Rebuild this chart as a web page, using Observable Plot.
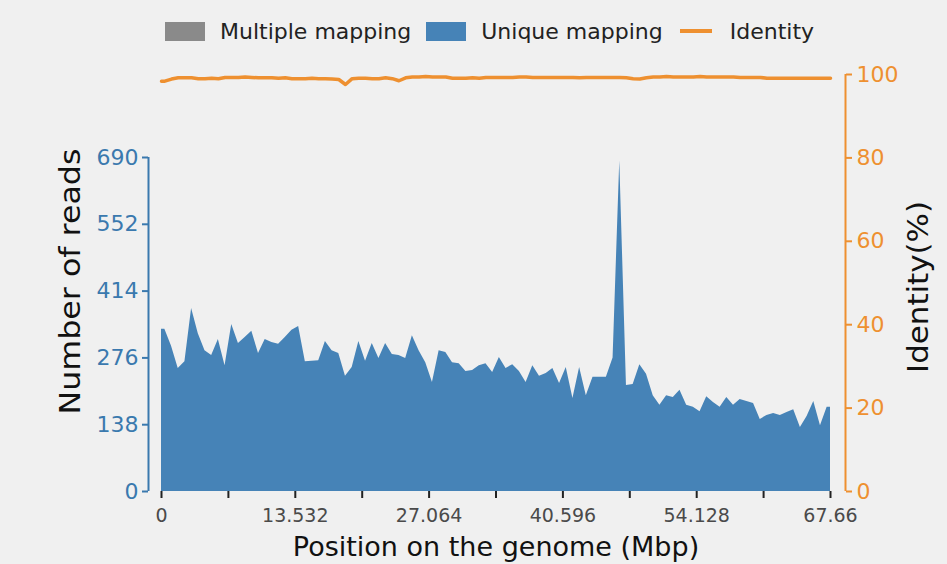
<!DOCTYPE html>
<html>
<head>
<meta charset="utf-8">
<script src="https://cdn.jsdelivr.net/npm/d3@7"></script>
<script src="https://cdn.jsdelivr.net/npm/@observablehq/plot@0.6"></script>
<style>
  html, body { margin: 0; padding: 0; background: #ffffff; }
  #wrap { position: relative; width: 947px; height: 564px; background: #f0f0f0; font-family: "DejaVu Sans", sans-serif; overflow: hidden; }
  #legend { position: absolute; left: 0; top: 0; width: 947px; height: 62px; box-sizing: border-box; padding-left: 165px; display: flex; align-items: center; font-size: 22px; color: #222; }
  #legend .sw { display: inline-block; width: 40px; height: 19px; margin-right: 15px; }
  #legend .ln { display: inline-block; width: 32px; height: 4px; margin-right: 18px; }
  #legend .lab { margin-right: 15px; }
  #charts { position: absolute; left: 0; top: 60px; width: 947px; height: 504px; }
  #charts svg { position: absolute; left: 0; top: 0; }
</style>
</head>
<body>
<div id="wrap">
  <div id="legend"></div>
  <div id="charts"></div>
</div>
<script>
// ---- data ----
const genomeLength = 67.66;           // Mbp
const binSize = 0.6766;               // Mbp per bin
const reads = [
  335,300,254,268,378,326,291,281,314,260,
  345,306,318,331,285,314,308,304,318,333,
  341,268,269,270,310,291,285,238,256,310,
  269,306,275,306,283,281,275,322,291,266,
  225,291,287,266,264,248,250,260,264,246,
  277,254,262,248,225,260,238,244,254,223,
  256,192,256,198,236,236,236,276,683,219,
  221,262,242,198,178,198,194,209,178,174,
  165,196,184,174,194,178,190,186,182,149,
  157,161,157,163,169,132,155,186,136,174
];
const identity = [
  98.4,98.9,99.2,99.2,99.2,99.0,99.0,99.1,99.0,99.3,
  99.3,99.3,99.4,99.3,99.2,99.2,99.2,99.1,99.2,99.0,
  99.0,99.0,99.1,99.0,99.0,98.9,98.8,97.6,99.0,99.1,
  99.1,99.0,99.0,99.2,99.0,98.5,99.2,99.4,99.4,99.5,
  99.4,99.4,99.4,99.1,99.1,99.1,99.2,99.1,99.3,99.3,
  99.3,99.3,99.3,99.4,99.4,99.3,99.3,99.3,99.3,99.3,
  99.3,99.3,99.2,99.3,99.3,99.3,99.3,99.3,99.3,99.2,
  99.0,98.9,99.2,99.4,99.4,99.5,99.4,99.4,99.4,99.4,
  99.5,99.4,99.4,99.4,99.4,99.4,99.3,99.3,99.3,99.3,
  99.1,99.1,99.1,99.1,99.1,99.1,99.1,99.1,99.1,99.1
];
const xTicks = [0, 6.766, 13.532, 20.298, 27.064, 33.83, 40.596, 47.362, 54.128, 60.894, 67.66];
const xTickLabels = ["0", "", "13.532", "", "27.064", "", "40.596", "", "54.128", "", "67.66"];
const readTicks = [0, 138, 276, 414, 552, 690];
const identityTicks = [0, 20, 40, 60, 80, 100];
const legendItems = ["Multiple mapping", "Unique mapping", "Identity"];
const xLabel = "Position on the genome (Mbp)";
const yLabel = "Number of reads";
const y2Label = "Identity(%)";

// ---- colours ----
const cGray = "#8a8a8a", cBlue = "#4683b7", cBlueAxis = "#3a79ae", cOrange = "#ee9030";

// ---- table ----
const rows = reads.map((v, i) => ({pos: (i + 0.5) * binSize, reads: v, identity: identity[i]}));
const table = [
  {pos: 0, reads: reads[0], identity: identity[0]},
  ...rows,
  {pos: genomeLength, reads: reads[reads.length - 1], identity: identity[identity.length - 1]}
];

// ---- legend ----
const legend = document.getElementById("legend");
legend.innerHTML =
  `<span class="sw" style="background:${cGray}"></span><span class="lab">${legendItems[0]}</span>` +
  `<span class="sw" style="background:${cBlue}"></span><span class="lab" style="margin-right:17px">${legendItems[1]}</span>` +
  `<span class="ln" style="background:${cOrange}"></span><span class="lab">${legendItems[2]}</span>`;

const W = 947, H = 504;
const common = {
  width: W, height: H,
  marginLeft: 161, marginRight: 117, marginBottom: 73,
  style: {background: "transparent", fontFamily: "DejaVu Sans, sans-serif", fontSize: "19px", overflow: "visible"},
  x: {domain: [0, genomeLength]}
};

const p1 = Plot.plot({
  ...common,
  marginTop: 97,
  y: {domain: [0, 690]},
  marks: [
    Plot.areaY(table, {x: "pos", y: "reads", fill: cBlue}),
    Plot.ruleX([0], {y1: 0, y2: 690, dx: -13, stroke: cBlueAxis, strokeWidth: 2}),
    Plot.axisY(readTicks, {anchor: "left", dx: -13, tickSize: 6, tickPadding: 4, color: cBlueAxis, strokeWidth: 2, fontSize: 22, label: null, tickFormat: d => String(d)}),
    Plot.axisX(xTicks, {anchor: "bottom", tickSize: 7, tickPadding: 10, stroke: "#222", fill: "#4a4a4a", strokeWidth: 2, label: null,
      tickFormat: d => xTickLabels[xTicks.indexOf(d)]}),
    Plot.text([xLabel], {frameAnchor: "bottom", dy: 64, text: d => d, fontSize: 27, fill: "#111"}),
    Plot.text([yLabel], {frameAnchor: "left", textAnchor: "middle", dx: -91, dy: -43, rotate: -90, text: d => d, fontSize: 29, fill: "#111"})
  ]
});

const p2 = Plot.plot({
  ...common,
  marginTop: 14,
  x: {domain: [0, genomeLength], axis: null},
  y: {domain: [0, 100]},
  marks: [
    Plot.lineY(table, {x: "pos", y: "identity", stroke: cOrange, strokeWidth: 3.5}),
    Plot.ruleX([genomeLength], {y1: 0, y2: 100, dx: 15, stroke: cOrange, strokeWidth: 2}),
    Plot.axisY(identityTicks, {anchor: "right", dx: 15, tickSize: 6, tickPadding: 5, color: cOrange, strokeWidth: 2, fontSize: 22, label: null, tickFormat: d => String(d)}),
    Plot.text([y2Label], {frameAnchor: "right", textAnchor: "middle", dx: 88, dy: 4, rotate: -90, text: d => d, fontSize: 29, fill: "#111"})
  ]
});

// stretch the two rotated axis titles along their length, as in the reference
d3.select(p1).selectAll("text").filter(function() { return this.textContent === yLabel; })
  .attr("textLength", 266).attr("lengthAdjust", "spacingAndGlyphs");
d3.select(p2).selectAll("text").filter(function() { return this.textContent === y2Label; })
  .attr("textLength", 172).attr("lengthAdjust", "spacingAndGlyphs");

const charts = document.getElementById("charts");
charts.appendChild(p1);
charts.appendChild(p2);
</script>
</body>
</html>
